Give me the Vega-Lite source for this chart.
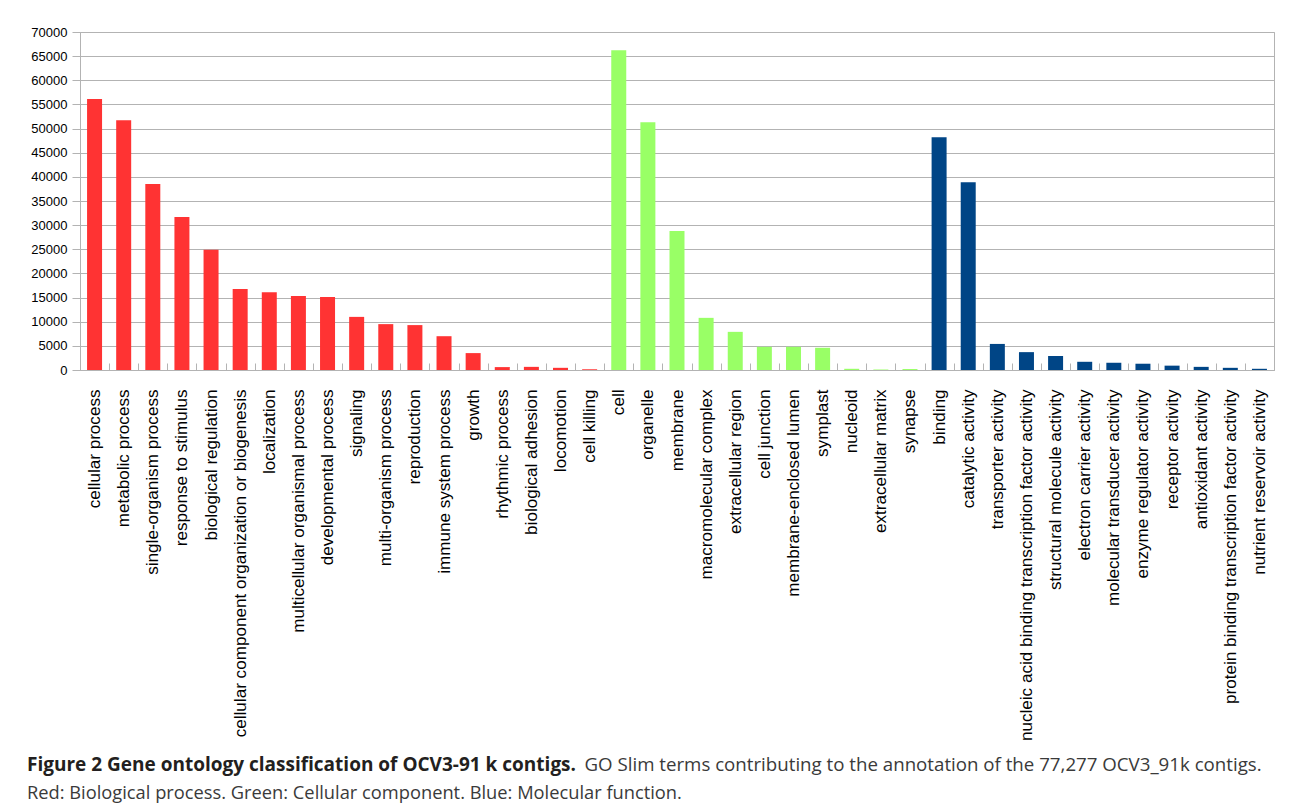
{
  "$schema": "https://vega.github.io/schema/vega-lite/v6.json",
  "width": 1194,
  "height": 338,
  "autosize": {"type": "none"},
  "padding": {"left": 80, "top": 32, "right": 18, "bottom": 437},
  "background": "white",
  "title": {
    "text": "Figure 2 Gene ontology classification of OCV3-91 k contigs.",
    "subtitle": "Red: Biological process. Green: Cellular component. Blue: Molecular function.",
    "orient": "top",
    "anchor": "start",
    "frame": "group",
    "dx": -53,
    "dy": 780,
    "font": "Open Sans",
    "fontSize": 19,
    "fontWeight": "bold",
    "color": "#231f20",
    "subtitleFont": "Open Sans",
    "subtitleFontSize": 18.3,
    "subtitleColor": "#3a3a3a",
    "subtitlePadding": 10
  },
  "data": {
    "values": [
      {"term": "cellular process", "count": 56100, "ontology": "Biological process"},
      {"term": "metabolic process", "count": 51700, "ontology": "Biological process"},
      {"term": "single-organism process", "count": 38500, "ontology": "Biological process"},
      {"term": "response to stimulus", "count": 31700, "ontology": "Biological process"},
      {"term": "biological regulation", "count": 24900, "ontology": "Biological process"},
      {"term": "cellular component organization or biogenesis", "count": 16800, "ontology": "Biological process"},
      {"term": "localization", "count": 16100, "ontology": "Biological process"},
      {"term": "multicellular organismal process", "count": 15300, "ontology": "Biological process"},
      {"term": "developmental process", "count": 15100, "ontology": "Biological process"},
      {"term": "signaling", "count": 11000, "ontology": "Biological process"},
      {"term": "multi-organism process", "count": 9500, "ontology": "Biological process"},
      {"term": "reproduction", "count": 9300, "ontology": "Biological process"},
      {"term": "immune system process", "count": 7000, "ontology": "Biological process"},
      {"term": "growth", "count": 3500, "ontology": "Biological process"},
      {"term": "rhythmic process", "count": 600, "ontology": "Biological process"},
      {"term": "biological adhesion", "count": 650, "ontology": "Biological process"},
      {"term": "locomotion", "count": 450, "ontology": "Biological process"},
      {"term": "cell killing", "count": 150, "ontology": "Biological process"},
      {"term": "cell", "count": 66200, "ontology": "Cellular component"},
      {"term": "organelle", "count": 51300, "ontology": "Cellular component"},
      {"term": "membrane", "count": 28800, "ontology": "Cellular component"},
      {"term": "macromolecular complex", "count": 10800, "ontology": "Cellular component"},
      {"term": "extracellular region", "count": 7900, "ontology": "Cellular component"},
      {"term": "cell junction", "count": 4800, "ontology": "Cellular component"},
      {"term": "membrane-enclosed lumen", "count": 4800, "ontology": "Cellular component"},
      {"term": "symplast", "count": 4600, "ontology": "Cellular component"},
      {"term": "nucleoid", "count": 250, "ontology": "Cellular component"},
      {"term": "extracellular matrix", "count": 100, "ontology": "Cellular component"},
      {"term": "synapse", "count": 200, "ontology": "Cellular component"},
      {"term": "binding", "count": 48200, "ontology": "Molecular function"},
      {"term": "catalytic activity", "count": 38900, "ontology": "Molecular function"},
      {"term": "transporter activity", "count": 5400, "ontology": "Molecular function"},
      {"term": "nucleic acid binding transcription factor activity", "count": 3700, "ontology": "Molecular function"},
      {"term": "structural molecule activity", "count": 2900, "ontology": "Molecular function"},
      {"term": "electron carrier activity", "count": 1700, "ontology": "Molecular function"},
      {"term": "molecular transducer activity", "count": 1500, "ontology": "Molecular function"},
      {"term": "enzyme regulator activity", "count": 1300, "ontology": "Molecular function"},
      {"term": "receptor activity", "count": 900, "ontology": "Molecular function"},
      {"term": "antioxidant activity", "count": 650, "ontology": "Molecular function"},
      {"term": "protein binding transcription factor activity", "count": 450, "ontology": "Molecular function"},
      {"term": "nutrient reservoir activity", "count": 250, "ontology": "Molecular function"}
    ]
  },
  "mark": {"type": "bar", "width": {"band": 0.515}},
  "encoding": {
    "x": {
      "field": "term",
      "type": "nominal",
      "sort": null,
      "scale": {"paddingInner": 0, "paddingOuter": 0},
      "axis": {
        "title": "GO Slim terms contributing to the annotation of the 77,277 OCV3_91k contigs.",
        "titleFont": "Open Sans",
        "titleFontSize": 18.7,
        "titleFontWeight": "normal",
        "titleColor": "#3a3a3a",
        "titleAlign": "left",
        "titleBaseline": "alphabetic",
        "titleX": 504,
        "titleY": 400,
        "labelAngle": -90,
        "labelAlign": "right",
        "labelBaseline": "middle",
        "labelFont": "Liberation Sans",
        "labelFontSize": 17.1,
        "labelColor": "#000000",
        "labelPadding": 26,
        "labelLimit": 500,
        "labelOverlap": false,
        "ticks": true,
        "tickSize": -7,
        "tickColor": "#b3b3b3",
        "tickBand": "extent",
        "domainColor": "#b3b3b3",
        "grid": false
      }
    },
    "y": {
      "field": "count",
      "type": "quantitative",
      "scale": {"domain": [0, 70000], "nice": false},
      "axis": {
        "title": null,
        "values": [0, 5000, 10000, 15000, 20000, 25000, 30000, 35000, 40000, 45000, 50000, 55000, 60000, 65000, 70000],
        "format": "d",
        "labelFont": "Liberation Sans",
        "labelFontSize": 13,
        "labelColor": "#000000",
        "labelPadding": 5,
        "tickSize": 8,
        "tickColor": "#b3b3b3",
        "domainColor": "#b3b3b3",
        "grid": true,
        "gridColor": "#b3b3b3"
      }
    },
    "color": {
      "field": "ontology",
      "type": "nominal",
      "scale": {
        "domain": ["Biological process", "Cellular component", "Molecular function"],
        "range": ["#ff3333", "#99ff66", "#004586"]
      },
      "legend": null
    }
  },
  "config": {"view": {"stroke": "#b3b3b3"}}
}
